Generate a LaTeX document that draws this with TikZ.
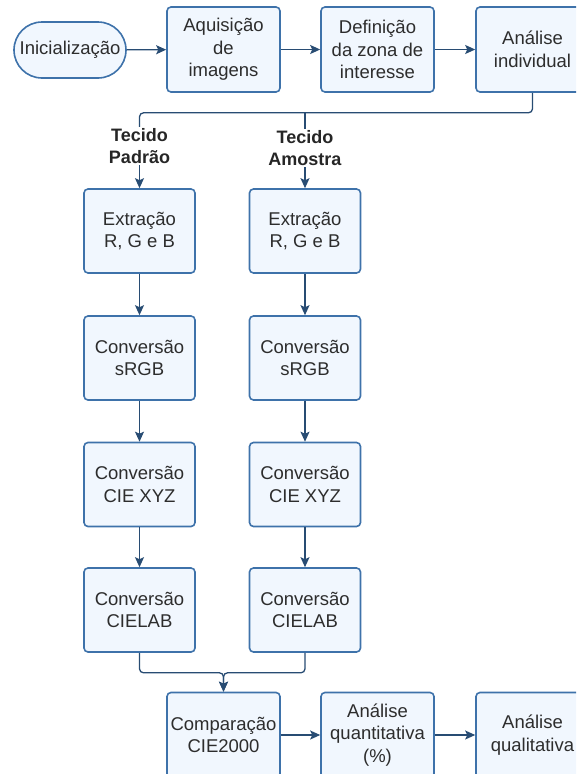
\documentclass[tikz,border=0pt]{standalone}
\usepackage{fontspec}
\setmainfont{Liberation Sans}
\usetikzlibrary{arrows.meta}
\definecolor{boxline}{RGB}{62,114,170}
\definecolor{boxfill}{RGB}{241,247,254}
\definecolor{linkline}{RGB}{40,76,115}
\definecolor{boxtext}{RGB}{45,45,45}

\begin{document}
\begin{tikzpicture}[x=1pt,y=-1pt,
    box/.style={draw=boxline,fill=boxfill,line width=1.6pt,rounded corners=4pt,
      minimum width=113pt,minimum height=85pt,align=center,text=boxtext,
      font=\fontsize{18.5pt}{22.5pt}\selectfont},
    colbox/.style={box,minimum width=111pt,minimum height=84pt},
    pill/.style={box,rounded corners=28pt,minimum width=112pt,minimum height=56pt},
    lbl/.style={align=center,inner sep=1pt,text=black!85,
      font=\bfseries\fontsize{18pt}{22.5pt}\selectfont},
    link/.style={draw=linkline,line width=1.3pt,rounded corners=4pt,
      -{Stealth[length=10pt,width=9pt,inset=2pt]}},
    wire/.style={draw=linkline,line width=1.3pt,rounded corners=4pt}]
  \clip (0,0) rectangle (576,774);
  % top row
  \node[pill] (ini) at (70,50) {Inicialização};
  \node[box] (aquis) at (223.5,49.5) {Aquisição\\de\\imagens};
  \node[box] (defz) at (377.5,49.5) {Definição\\da zona de\\interesse};
  \node[box] (anind) at (532.5,49.5) {Análise\\individual};
  \draw[link] (ini) -- (aquis);
  \draw[link] (aquis) -- (defz);
  \draw[link] (defz) -- (anind);
  % split into the two samples
  \node[lbl] (tpad) at (139.5,146) {Tecido\\Padrão};
  \node[lbl] (tamo) at (305,148) {Tecido\\Amostra};
  \draw[wire] (anind.south) -- ++(0,20) coordinate (bend) -| (tpad.north);
  \draw[wire] (tamo.north |- bend) -- (tamo.north);
  % left column
  \node[colbox] (extp) at (139.5,231) {Extração\\R, G e B};
  \node[colbox] (srgbp) at (139.5,358) {Conversão\\sRGB};
  \node[colbox] (xyzp) at (139.5,484.5) {Conversão\\CIE XYZ};
  \node[colbox] (labp) at (139.5,610) {Conversão\\CIELAB};
  % right column
  \node[colbox] (exta) at (305,231) {Extração\\R, G e B};
  \node[colbox] (srgba) at (305,358) {Conversão\\sRGB};
  \node[colbox] (xyza) at (305,484.5) {Conversão\\CIE XYZ};
  \node[colbox] (laba) at (305,610) {Conversão\\CIELAB};
  \draw[link] (tpad) -- (extp);
  \draw[link] (extp) -- (srgbp);
  \draw[link] (srgbp) -- (xyzp);
  \draw[link] (xyzp) -- (labp);
  \draw[link] (tamo) -- (exta);
  \draw[link] (exta) -- (srgba);
  \draw[link] (srgba) -- (xyza);
  \draw[link] (xyza) -- (laba);
  % bottom row
  \node[box] (comp) at (223.5,735) {Comparação\\CIE2000};
  \node[box] (quant) at (377.5,735) {Análise\\quantitativa\\(\%)};
  \node[box] (qual) at (532.5,735) {Análise\\qualitativa};
  \draw[link] (labp.south) -- ++(0,20) -| (comp.north);
  \draw[link] (laba.south) -- ++(0,20) -| (comp.north);
  \draw[link] (comp) -- (quant);
  \draw[link] (quant) -- (qual);
\end{tikzpicture}
\end{document}
